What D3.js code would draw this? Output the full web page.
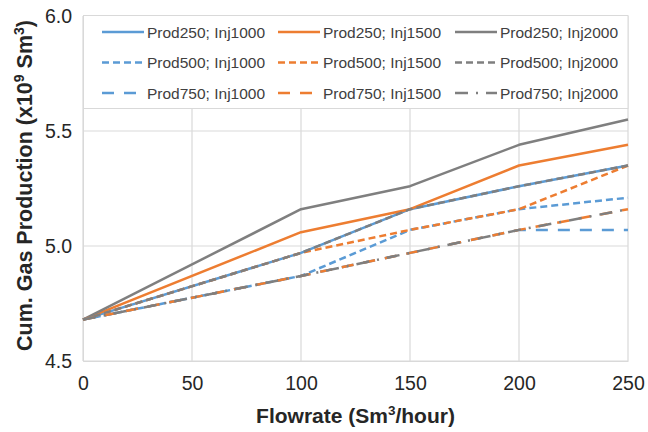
<!DOCTYPE html>
<html>
<head>
<meta charset="utf-8">
<script src="https://cdn.jsdelivr.net/npm/d3@7"></script>
<style>
  body { margin: 0; background: #fff; }
  svg { display: block; font-family: "Liberation Sans", Arial, sans-serif; }
</style>
</head>
<body>
<svg id="chart" width="648" height="432"></svg>
<script>
const flowrates = [0, 50, 100, 150, 200, 250];
const xPoints = [0, 100, 150, 200, 250];
const xTicks = [0, 50, 100, 150, 200, 250];
const yTicks = [4.5, 5.0, 5.5, 6.0];

const seriesNames = [
  "Prod250; Inj1000", "Prod250; Inj1500", "Prod250; Inj2000",
  "Prod500; Inj1000", "Prod500; Inj1500", "Prod500; Inj2000",
  "Prod750; Inj1000", "Prod750; Inj1500", "Prod750; Inj2000"
];
const p250i1000 = [4.68, 4.97, 5.16, 5.26, 5.35];
const p250i1500 = [4.68, 5.06, 5.16, 5.35, 5.44];
const p250i2000 = [4.68, 5.16, 5.26, 5.44, 5.55];
const p500i1000 = [4.68, 4.87, 5.07, 5.16, 5.21];
const p500i1500 = [4.68, 4.97, 5.07, 5.16, 5.35];
const p500i2000 = [4.68, 4.97, 5.16, 5.26, 5.35];
const p750i1000 = [4.68, 4.87, 4.97, 5.07, 5.07];
const p750i1500 = [4.68, 4.87, 4.97, 5.07, 5.16];
const p750i2000 = [4.68, 4.87, 4.97, 5.07, 5.16];
const seriesValues = [p250i1000, p250i1500, p250i2000, p500i1000, p500i1500, p500i2000, p750i1000, p750i1500, p750i2000];

const colors = ["#5B9BD5", "#ED7D31", "#7F7F7F"];
const dashes = [null, "7,4", "12,10"];
const dashDot = "13,8,2,8";

const svg = d3.select("#chart");
const m = { left: 83, right: 628, top: 16, bottom: 361 };
const x = d3.scaleLinear().domain([0, 250]).range([m.left, m.right]);
const y = d3.scaleLinear().domain([4.5, 6.0]).range([m.bottom, m.top]);

const grid = svg.append("g");
grid.selectAll("line.v").data(xTicks).join("line")
  .attr("x1", d => x(d)).attr("x2", d => x(d))
  .attr("y1", m.top).attr("y2", m.bottom)
  .attr("stroke", "#d9d9d9").attr("stroke-width", 1.2);
grid.selectAll("line.h").data(yTicks).join("line")
  .attr("x1", m.left).attr("x2", m.right)
  .attr("y1", d => y(d)).attr("y2", d => y(d))
  .attr("stroke", "#d9d9d9").attr("stroke-width", 1.2);

// axes
const xAxis = svg.append("g").attr("transform", `translate(0,${m.bottom})`)
  .call(d3.axisBottom(x).tickValues(xTicks).tickSize(0).tickPadding(15).tickFormat(d3.format("d")));
xAxis.select(".domain").attr("stroke", "#d9d9d9");
xAxis.selectAll("text").attr("font-size", 19.5).attr("fill", "#262626").attr("font-family", "Liberation Sans, Arial, sans-serif");

const yAxis = svg.append("g").attr("transform", `translate(${m.left},0)`)
  .call(d3.axisLeft(y).tickValues(yTicks).tickSize(0).tickPadding(11).tickFormat(d3.format(".1f")));
yAxis.select(".domain").attr("stroke", "#d9d9d9");
yAxis.selectAll("text").attr("font-size", 19.5).attr("fill", "#262626").attr("font-family", "Liberation Sans, Arial, sans-serif");

// lines
const line = d3.line().x((d, i) => x(xPoints[i])).y(d => y(d));
seriesValues.forEach((vals, k) => {
  const row = Math.floor(k / 3), col = k % 3;
  const dash = (k === 8) ? dashDot : dashes[row];
  svg.append("path").datum(vals)
    .attr("d", line)
    .attr("fill", "none")
    .attr("stroke", colors[col])
    .attr("stroke-width", 2.5)
    .attr("stroke-linejoin", "round")
    .attr("stroke-dasharray", dash);
});

// legend
const lg = svg.append("g");
lg.append("rect").attr("x", 83.5).attr("y", 15.5).attr("width", 544.5).attr("height", 93)
  .attr("fill", "#fff").attr("stroke", "#d9d9d9");
const colX = [102, 278, 455];
const rowY = [32, 62.5, 93];
seriesNames.forEach((name, k) => {
  const row = Math.floor(k / 3), col = k % 3;
  const dash = (k === 8) ? dashDot : dashes[row];
  lg.append("line")
    .attr("x1", colX[col]).attr("x2", colX[col] + 42)
    .attr("y1", rowY[row]).attr("y2", rowY[row])
    .attr("stroke", colors[col]).attr("stroke-width", 2.5)
    .attr("stroke-dasharray", dash);
  lg.append("text")
    .attr("x", colX[col] + 45).attr("y", rowY[row])
    .attr("dy", "0.36em")
    .attr("font-size", 15.5).attr("fill", "#404040")
    .text(name);
});

// axis titles
const xt = svg.append("text")
  .attr("x", (m.left + m.right) / 2).attr("y", 423)
  .attr("text-anchor", "middle").attr("font-size", 21).attr("font-weight", "bold").attr("fill", "#262626");
xt.append("tspan").text("Flowrate (Sm");
xt.append("tspan").attr("dy", -8).attr("font-size", 13.5).text("3");
xt.append("tspan").attr("dy", 8).text("/hour)");

const yt = svg.append("text")
  .attr("transform", "translate(32,185.5) rotate(-90)")
  .attr("text-anchor", "middle").attr("font-size", 21.5).attr("font-weight", "bold").attr("fill", "#262626");
yt.append("tspan").text("Cum. Gas Production (x10");
yt.append("tspan").attr("dy", -8).attr("font-size", 14).text("9");
yt.append("tspan").attr("dy", 8).text(" Sm");
yt.append("tspan").attr("dy", -8).attr("font-size", 14).text("3");
yt.append("tspan").attr("dy", 8).text(")");
</script>
</body>
</html>
